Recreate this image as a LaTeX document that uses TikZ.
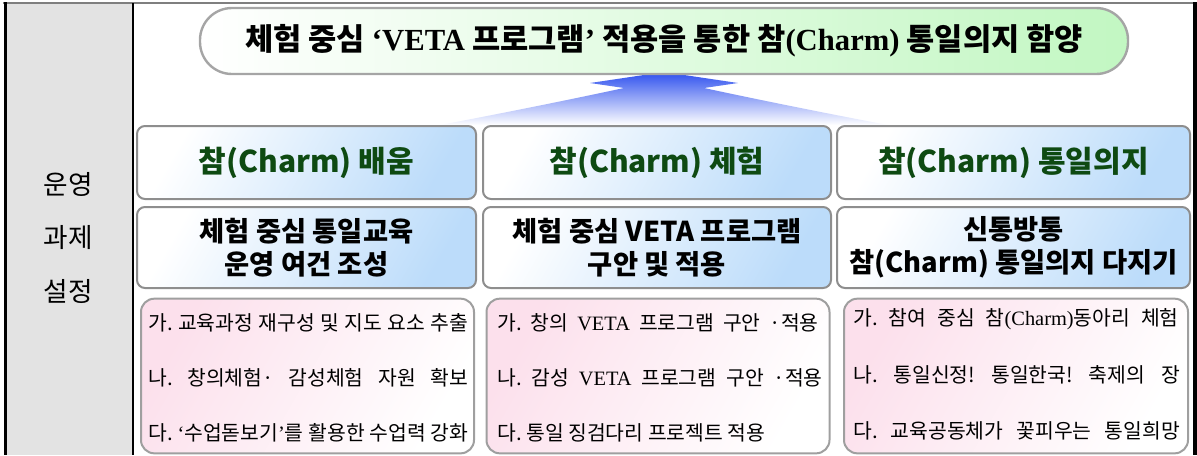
\documentclass[tikz,border=0pt]{standalone}
\usepackage{fontspec}
\setmainfont{Liberation Serif}
\newfontfamily\kr{Noto Sans CJK KR}
\definecolor{linegrey}{HTML}{7F7F7F}
\definecolor{colgrey}{HTML}{E3E3E3}
\definecolor{boxedge}{HTML}{8E8E8E}
\definecolor{bannergreen}{HTML}{C2F7C2}
\definecolor{lightblue}{HTML}{BCDCFA}
\definecolor{lightpink}{HTML}{FCE0EC}
\definecolor{headgreen}{HTML}{0E4A12}
\definecolor{arrowblue}{HTML}{2E50EE}
\begin{document}
\frenchspacing
\begin{tikzpicture}[x=0.75pt,y=-0.75pt,
  banner/.style={draw=boxedge!80, line width=1.8pt, rounded corners=24pt,
    left color=white, right color=bannergreen, minimum width=696pt, minimum height=49.5pt,
    inner sep=0pt},
  bluebox/.style={draw=boxedge, line width=1.5pt, rounded corners=6pt,
    top color=white, bottom color=lightblue, shading angle=60, inner sep=0pt, align=center},
  pinkbox/.style={draw=boxedge!85, line width=1.5pt, rounded corners=10pt,
    top color=lightpink, bottom color=white, shading angle=60, inner sep=0pt},
  headtxt/.style={font=\kr\bfseries\fontsize{22.5}{26}\selectfont, text=headgreen},
  subtxt/.style={font=\kr\bfseries\fontsize{20.5}{25}\selectfont, align=center},
  itemtxt/.style={font=\kr\frenchspacing\fontsize{15.3}{18}\selectfont, anchor=west, inner sep=0pt},
  sidetxt/.style={font=\kr\fontsize{20}{23}\selectfont}
]
\useasboundingbox (0,0) rectangle (1197,455);
% table frame
\fill[colgrey] (7,3) rectangle (133,455);
\draw[linegrey, line width=1.5pt] (3,3) -- (1197,3);
\draw[black, line width=0.8pt] (133,3) -- (133,455);
\draw[black, line width=2.4pt] (5.5,2) -- (5.5,455);
\draw[black, line width=2.4pt] (1195,2) -- (1195,455);

% left column
\node[sidetxt] (s1) at (68,184) {운영};
\node[sidetxt] (s2) at (68,238) {과제};
\node[sidetxt] (s3) at (68,291) {설정};

% arrow
\shade[top color=arrowblue, bottom color=white]
  (440,125) .. controls (530,108) and (596,94) .. (624,88) -- (590,83) -- (664,72)
  -- (738,83) -- (704,88) .. controls (732,94) and (798,108) .. (888,125) -- cycle;

% banner
\node[banner] (top) at (664,41) {};
\node[font=\kr\bfseries\fontsize{23}{26}\selectfont] (toptxt) at (664,41)
  {체험 중심 {\rmfamily\bfseries ‘VETA} 프로그램{\rmfamily\bfseries ’} 적용을 통한 참{\rmfamily\bfseries (Charm)} 통일의지 함양};

% row 1
\node[bluebox, minimum width=254.25pt, minimum height=54.75pt] (h1) at (306.5,162.5) {};
\node[bluebox, minimum width=261pt, minimum height=54.75pt] (h2) at (657,162.5) {};
\node[bluebox, minimum width=264.75pt, minimum height=54.75pt] (h3) at (1013.5,162.5) {};
\node[headtxt] (h1t) at (h1) {참(Charm) 배움};
\node[headtxt] (h2t) at (h2) {참(Charm) 체험};
\node[headtxt] (h3t) at (h3) {참(Charm) 통일의지};

% row 2
\node[bluebox, minimum width=254.25pt, minimum height=60.75pt] (m1) at (306.5,247.5) {};
\node[bluebox, minimum width=261pt, minimum height=60.75pt] (m2) at (657,247.5) {};
\node[bluebox, minimum width=264.75pt, minimum height=60.75pt] (m3) at (1013.5,247.5) {};
\node[subtxt] (m1t) at (m1) {체험 중심 통일교육\\운영 여건 조성};
\node[subtxt] (m2t) at (m2) {체험 중심 VETA 프로그램\\구안 및 적용};
\node[subtxt] (m3t) at (m3) {신통방통\\참(Charm) 통일의지 다지기};

% row 3
\node[pinkbox, minimum width=249.75pt, minimum height=116pt] (l1) at (307.5,376) {};
\node[pinkbox, minimum width=257.25pt, minimum height=116pt] (l2) at (658,376) {};
\node[pinkbox, minimum width=258pt, minimum height=116pt] (l3) at (1016,376) {};

\node[itemtxt] (a1) at (148,323) {\makebox[240pt][s]{가. 교육과정 재구성 및 지도 요소 추출}};
\node[itemtxt] (a2) at (148,378) {\makebox[240pt][s]{나. 창의체험· 감성체험 자원 확보}};
\node[itemtxt] (a3) at (148,433) {\makebox[240pt][s]{다. {\rmfamily ‘}수업돋보기{\rmfamily ’}를 활용한 수업력 강화}};

\node[itemtxt] (b1) at (497,323) {\makebox[241pt][s]{가. 창의 {\rmfamily VETA} 프로그램 구안 ·적용}};
\node[itemtxt] (b2) at (497,378) {\makebox[244pt][s]{나. 감성 {\rmfamily VETA} 프로그램 구안 ·적용}};
\node[itemtxt] (b3) at (497,433) {다. 통일 징검다리 프로젝트 적용};

\node[itemtxt] (c1) at (853,319) {\makebox[244pt][s]{가. 참여 중심 참{\rmfamily (Charm)}동아리 체험}};
\node[itemtxt] (c2) at (853,375) {\makebox[245pt][s]{나. 통일신정! 통일한국! 축제의 장}};
\node[itemtxt] (c3) at (853,431) {\makebox[245pt][s]{다. 교육공동체가 꽃피우는 통일희망}};
\end{tikzpicture}
\end{document}
